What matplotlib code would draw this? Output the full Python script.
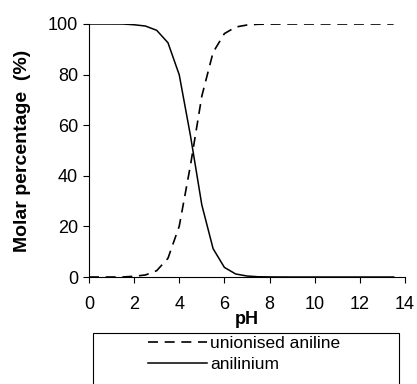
import matplotlib.pyplot as plt
from matplotlib.patches import Rectangle
from matplotlib.lines import Line2D

plt.rcParams['font.family'] = ['Liberation Sans', 'DejaVu Sans']

ph = [0, 0.5, 1, 1.5, 2, 2.5, 3, 3.5, 4, 4.5, 5, 5.5, 6, 6.5, 7,
      7.5, 8, 8.5, 9, 9.5, 10, 10.5, 11, 11.5, 12, 12.5, 13, 13.5]
anilinium = [100, 100, 100, 99.99, 99.7, 99.2, 97.5, 92.6, 79.9, 55.7, 28.5, 11.2, 3.8, 1.2, 0.4,
             0.1, 0.04, 0.01, 0, 0, 0, 0, 0, 0, 0, 0, 0, 0]
unionised = [0, 0, 0, 0.01, 0.3, 0.8, 2.5, 7.4, 20.1, 44.3, 71.5, 88.8, 96.2, 98.8, 99.6,
             99.9, 99.96, 99.99, 100, 100, 100, 100, 100, 100, 100, 100, 100, 100]

fig = plt.figure(figsize=(4.17, 3.84), dpi=100)
ax = fig.add_axes([0.2134, 0.2786, 0.7576, 0.6589])

ax.plot(ph, unionised, color='black', linewidth=1.2, linestyle=(0, (6, 4)))
ax.plot(ph, anilinium, color='black', linewidth=1.1)

ax.set_xlim(0, 14)
ax.set_ylim(0, 100)
ax.set_xticks(range(0, 15, 2))
ax.set_yticks(range(0, 101, 20))
ax.tick_params(labelsize=13, length=4, width=0.8, colors='black')
ax.tick_params(axis='x', pad=10)
ax.tick_params(axis='y', pad=4)
ax.spines['top'].set_visible(False)
ax.spines['right'].set_visible(False)
ax.spines['left'].set_linewidth(0.8)
ax.spines['bottom'].set_linewidth(0.8)
ax.set_xlabel('pH', fontsize=13, fontweight='bold', labelpad=-2)
ax.set_ylabel('Molar percentage  (%)', fontsize=14, fontweight='bold', labelpad=12)

# legend box running off the bottom of the figure
fig.patches.append(Rectangle((93 / 417, -0.05), (399 - 93) / 417, 1.05 - 333 / 384,
                             transform=fig.transFigure, fill=False,
                             edgecolor='black', linewidth=0.8))
handles = [Line2D([], [], color='black', linewidth=1.2, linestyle=(0, (6, 4))),
           Line2D([], [], color='black', linewidth=1.1)]
fig.legend(handles, ['unionised aniline', 'anilinium'], loc='upper left',
           bbox_to_anchor=(145 / 417, 1 - 333 / 384), frameon=False, fontsize=12.5,
           handlelength=3.4, handletextpad=0.2, labelspacing=0.35, borderaxespad=0,
           borderpad=0.15)

fig.savefig('out.png', dpi=100)
